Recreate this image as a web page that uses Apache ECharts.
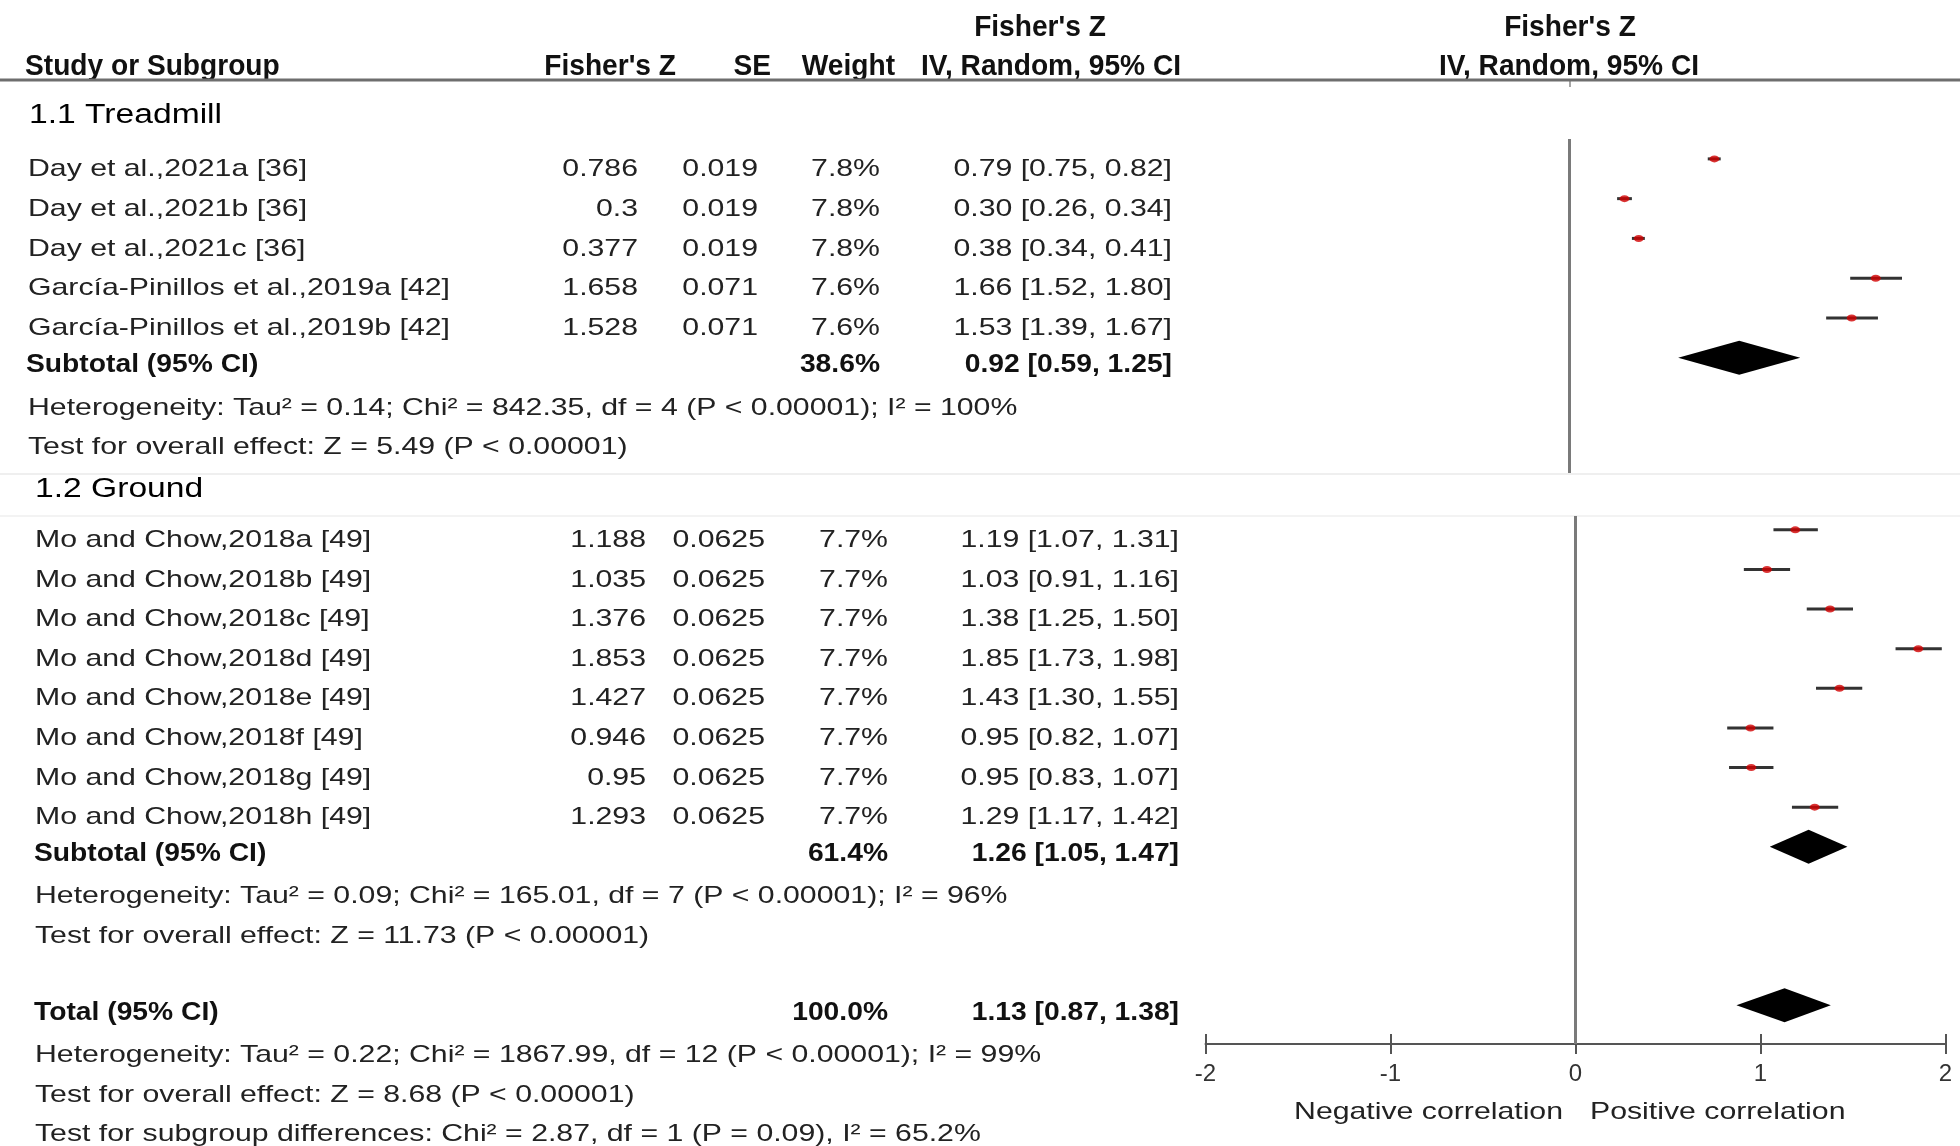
<!DOCTYPE html>
<html><head><meta charset="utf-8">
<script src="https://cdn.jsdelivr.net/npm/echarts@6/dist/echarts.min.js"></script>
<style>html,body{margin:0;padding:0;background:#fff}#c{width:1960px;height:1146px}</style>
</head><body><div id="c"></div>
<script>
// ---------------- data ----------------
const treadStudies = ['Day et al.,2021a [36]', 'Day et al.,2021b [36]', 'Day et al.,2021c [36]', 'García-Pinillos et al.,2019a [42]', 'García-Pinillos et al.,2019b [42]'];
const treadZ = [0.786, 0.3, 0.377, 1.658, 1.528];
const treadSE = [0.019, 0.019, 0.019, 0.071, 0.071];
const treadWeight = [7.8, 7.8, 7.8, 7.6, 7.6];
const treadLow = [0.75, 0.26, 0.34, 1.52, 1.39];
const treadHigh = [0.82, 0.34, 0.41, 1.80, 1.67];
const treadSubtotal = [38.6, 0.92, 0.59, 1.25];   // weight, estimate, low, high

const groundStudies = ['Mo and Chow,2018a [49]', 'Mo and Chow,2018b [49]', 'Mo and Chow,2018c [49]', 'Mo and Chow,2018d [49]', 'Mo and Chow,2018e [49]', 'Mo and Chow,2018f [49]', 'Mo and Chow,2018g [49]', 'Mo and Chow,2018h [49]'];
const groundZ = [1.188, 1.035, 1.376, 1.853, 1.427, 0.946, 0.95, 1.293];
const groundSE = [0.0625, 0.0625, 0.0625, 0.0625, 0.0625, 0.0625, 0.0625, 0.0625];
const groundWeight = [7.7, 7.7, 7.7, 7.7, 7.7, 7.7, 7.7, 7.7];
const groundLow = [1.07, 0.91, 1.25, 1.73, 1.30, 0.82, 0.83, 1.17];
const groundHigh = [1.31, 1.16, 1.50, 1.98, 1.55, 1.07, 1.07, 1.42];
const groundSubtotal = [61.4, 1.26, 1.05, 1.47];
const overallTotal = [100.0, 1.13, 0.87, 1.38];

const subgroupNames = ['1.1 Treadmill', '1.2 Ground'];
const treadNotes = ['Heterogeneity: Tau² = 0.14; Chi² = 842.35, df = 4 (P < 0.00001); I² = 100%', 'Test for overall effect: Z = 5.49 (P < 0.00001)'];
const groundNotes = ['Heterogeneity: Tau² = 0.09; Chi² = 165.01, df = 7 (P < 0.00001); I² = 96%', 'Test for overall effect: Z = 11.73 (P < 0.00001)'];
const totalNotes = ['Heterogeneity: Tau² = 0.22; Chi² = 1867.99, df = 12 (P < 0.00001); I² = 99%', 'Test for overall effect: Z = 8.68 (P < 0.00001)', 'Test for subgroup differences: Chi² = 2.87, df = 1 (P = 0.09), I² = 65.2%'];
const headerCols = ['Study or Subgroup', "Fisher's Z", 'SE', 'Weight', "Fisher's Z", 'IV, Random, 95% CI'];
const directionLabels = ['Negative correlation', 'Positive correlation'];
const axisRange = [-2, 2, 1]; // min, max, interval

// ---------------- helpers ----------------
const FONT = '"Liberation Sans", Arial, Helvetica, sans-serif';
const BODY = {size: 24, sx: 1.26, weight: 'normal', color: '#222'};
const BOLD = {size: 25, sx: 1.13, weight: 'bold', color: '#111'};
const HEAD = {size: 29, sx: 0.97, weight: 'bold', color: '#111'};
const SECT = {size: 27, sx: 1.245, weight: 'normal', color: '#000'};
const TEXT_DY = 10.5;

const fmtCI = (e, l, h) => e.toFixed(2) + ' [' + l.toFixed(2) + ', ' + h.toFixed(2) + ']';
const fmtW = w => w.toFixed(1) + '%';

function txt(x, y, text, align, st) {
  return {
    type: 'text', x: x, y: y, scaleX: st.sx,
    style: {text: text, fill: st.color, fontSize: st.size, fontFamily: FONT, fontWeight: st.weight,
      align: align, textAlign: align, verticalAlign: 'middle', textVerticalAlign: 'middle'}
  };
}

function studyRows(names, z, se, w, lo, hi, sub, notes, startRow) {
  const rows = names.map((n, i) => ({row: startRow + i, kind: 'study',
    cells: [n, String(z[i]), String(se[i]), fmtW(w[i]), fmtCI(z[i], lo[i], hi[i])]}));
  const r0 = startRow + names.length;
  rows.push({row: r0, kind: 'bold', dy: -3, cells: ['Subtotal (95% CI)', '', '', fmtW(sub[0]), fmtCI(sub[1], sub[2], sub[3])]});
  notes.forEach((t, k) => rows.push({row: r0 + 1 + k, kind: 'note', text: t}));
  return rows;
}

const topRows = studyRows(treadStudies, treadZ, treadSE, treadWeight, treadLow, treadHigh, treadSubtotal, treadNotes, 0);
const botRows = studyRows(groundStudies, groundZ, groundSE, groundWeight, groundLow, groundHigh, groundSubtotal, groundNotes, 0);
const totalRow = groundStudies.length + 4;
botRows.push({row: totalRow, kind: 'bold', dy: -3, cells: ['Total (95% CI)', '', '', fmtW(overallTotal[0]), fmtCI(overallTotal[1], overallTotal[2], overallTotal[3])]});
totalNotes.forEach((t, k) => botRows.push({row: totalRow + 1 + k, kind: 'note', text: t}));

const topCols = {name: 28, boldName: 26, note: 28, right: [638, 758, 880, 1172]};
const botCols = {name: 35, boldName: 34, note: 35, right: [646, 765, 888, 1179]};

function tableRender(rows, cols) {
  return function (params, api) {
    const r = rows[params.dataIndex];
    const y = api.coord([0, api.value(1)])[1] + TEXT_DY + (r.dy || 0);
    const ch = [];
    if (r.kind === 'note') {
      ch.push(txt(cols.note, y, r.text, 'left', BODY));
    } else {
      const st = r.kind === 'study' ? BODY : BOLD;
      ch.push(txt(r.kind === 'study' ? cols.name : cols.boldName, y, r.cells[0], 'left', st));
      for (let k = 1; k <= 4; k++) if (r.cells[k]) ch.push(txt(cols.right[k - 1], y, r.cells[k], 'right', st));
    }
    return {type: 'group', children: ch};
  };
}

function whiskerRender(params, api) {
  const a = api.coord([api.value(0), api.value(2)]);
  const b = api.coord([api.value(1), api.value(2)]);
  return {type: 'line', shape: {x1: a[0], y1: a[1], x2: b[0], y2: b[1]}, style: {stroke: '#333', lineWidth: 3}};
}
function diamondRender(params, api) {
  const row = api.value(3);
  const l = api.coord([api.value(0), row]), m = api.coord([api.value(1), row]), h = api.coord([api.value(2), row]);
  const hh = 17;
  return {type: 'polygon', shape: {points: [[l[0], l[1]], [m[0], m[1] - hh], [h[0], h[1]], [m[0], m[1] + hh]]}, style: {fill: '#000'}};
}

const zeroLine = {symbol: 'none', silent: true, label: {show: false}, lineStyle: {color: '#7a7a7a', width: 3, type: 'solid'}, data: [{xAxis: 0}]};
const tickStyle = {color: '#555', width: 2};

const option = {
  animation: false,
  backgroundColor: '#fff',
  grid: [
    {left: 1199, width: 740, top: 139, height: 334},
    {left: 1205.5, width: 740, top: 516, height: 528},
    {left: 1205.5, width: 740, top: 1034, height: 10}
  ],
  xAxis: [
    {gridIndex: 0, type: 'value', min: axisRange[0], max: axisRange[1], interval: axisRange[2], show: false},
    {gridIndex: 1, type: 'value', min: axisRange[0], max: axisRange[1], interval: axisRange[2], position: 'bottom',
      splitLine: {show: false},
      axisLine: {show: true, onZero: false, lineStyle: {color: '#555', width: 2}},
      axisTick: {show: true, inside: false, length: 10, lineStyle: tickStyle},
      axisLabel: {show: true, margin: 18, fontSize: 24, color: '#333', fontFamily: FONT}},
    {gridIndex: 2, type: 'value', min: axisRange[0], max: axisRange[1], interval: axisRange[2], position: 'top',
      splitLine: {show: false}, axisLine: {show: false, onZero: false}, axisLabel: {show: false},
      axisTick: {show: true, inside: true, length: 10, lineStyle: tickStyle}}
  ],
  yAxis: [
    {gridIndex: 0, type: 'value', inverse: true, min: -0.5, max: 7.9, show: false},
    {gridIndex: 1, type: 'value', inverse: true, min: -0.35, max: 12.98, show: false},
    {gridIndex: 2, type: 'value', min: 0, max: 1, show: false}
  ],
  graphic: {elements: [
    {type: 'rect', shape: {x: 0, y: 78.5, width: 1960, height: 3}, style: {fill: '#6e6e6e'}, z: 10},
    {type: 'line', shape: {x1: 1570, y1: 80, x2: 1570, y2: 87}, style: {stroke: '#888', lineWidth: 1.5}},
    {type: 'line', shape: {x1: 0, y1: 474, x2: 1960, y2: 474}, style: {stroke: '#efefef', lineWidth: 2}},
    {type: 'line', shape: {x1: 0, y1: 516, x2: 1960, y2: 516}, style: {stroke: '#f3f3f3', lineWidth: 2}},
    txt(1040, 28, headerCols[1], 'center', HEAD),
    txt(1570, 28, headerCols[4], 'center', HEAD),
    txt(25, 67, headerCols[0], 'left', HEAD),
    txt(676, 67, headerCols[1], 'right', HEAD),
    txt(771, 67, headerCols[2], 'right', HEAD),
    txt(895, 67, headerCols[3], 'right', HEAD),
    txt(1051, 67, headerCols[5], 'center', HEAD),
    txt(1569, 67, headerCols[5], 'center', HEAD),
    txt(29, 116, subgroupNames[0], 'left', SECT),
    txt(35, 490, subgroupNames[1], 'left', SECT),
    txt(1563, 1112, directionLabels[0], 'right', BODY),
    txt(1590, 1112, directionLabels[1], 'left', BODY)
  ]},
  series: [
    {type: 'custom', xAxisIndex: 0, yAxisIndex: 0, silent: true, clip: false, z: 5,
      data: topRows.map(r => [0, r.row]), encode: {x: 0, y: 1}, renderItem: tableRender(topRows, topCols)},
    {type: 'custom', xAxisIndex: 1, yAxisIndex: 1, silent: true, clip: false, z: 5,
      data: botRows.map(r => [0, r.row]), encode: {x: 0, y: 1}, renderItem: tableRender(botRows, botCols)},
    {type: 'custom', xAxisIndex: 0, yAxisIndex: 0, silent: true, z: 3,
      data: treadLow.map((l, i) => [l, treadHigh[i], i]), encode: {x: [0, 1], y: 2}, renderItem: whiskerRender},
    {type: 'custom', xAxisIndex: 1, yAxisIndex: 1, silent: true, z: 3,
      data: groundLow.map((l, i) => [l, groundHigh[i], i]), encode: {x: [0, 1], y: 2}, renderItem: whiskerRender},
    {type: 'scatter', xAxisIndex: 0, yAxisIndex: 0, silent: true, z: 4, symbol: 'circle', symbolSize: [10, 7],
      itemStyle: {color: '#d20000'}, data: treadZ.map((z, i) => [z, i]), markLine: zeroLine},
    {type: 'scatter', xAxisIndex: 1, yAxisIndex: 1, silent: true, z: 4, symbol: 'circle', symbolSize: [10, 7],
      itemStyle: {color: '#d20000'}, data: groundZ.map((z, i) => [z, i]), markLine: zeroLine},
    {type: 'custom', xAxisIndex: 0, yAxisIndex: 0, silent: true, z: 4,
      data: [[treadSubtotal[2], treadSubtotal[1], treadSubtotal[3], treadStudies.length]],
      encode: {x: [0, 1, 2], y: 3}, renderItem: diamondRender},
    {type: 'custom', xAxisIndex: 1, yAxisIndex: 1, silent: true, z: 4,
      data: [[groundSubtotal[2], groundSubtotal[1], groundSubtotal[3], groundStudies.length],
             [overallTotal[2], overallTotal[1], overallTotal[3], totalRow]],
      encode: {x: [0, 1, 2], y: 3}, renderItem: diamondRender}
  ]
};
const chart = echarts.init(document.getElementById('c'), null, {renderer: 'canvas'});
chart.setOption(option);
</script></body></html>
